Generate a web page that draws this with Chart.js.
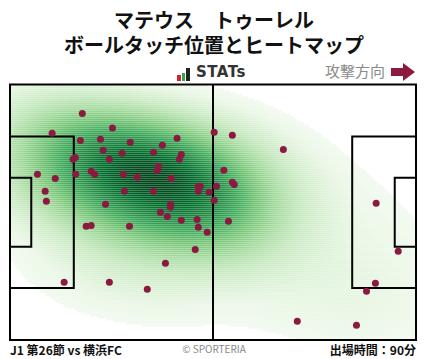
<!DOCTYPE html>
<html>
<head>
<meta charset="utf-8">
<script src="https://cdn.jsdelivr.net/npm/chart.js@4.4.1/dist/chart.umd.min.js"></script>
<style>
  body { margin: 0; width: 428px; height: 359px; background: #fff; position: relative; overflow: hidden;
         font-family: "Noto Sans CJK JP", "Noto Sans", sans-serif; }
  #pitch { position: absolute; left: 0; top: 0; }
  .title { position: absolute; left: 0; width: 428px; text-align: center; font-weight: bold; font-size: 20px; color: #111; line-height: 24px; }
  #t1 { top: 8px; }
  #t2 { top: 33px; }
  #stats { position: absolute; left: 177px; top: 63px; height: 18px; display: flex; align-items: flex-end; }
  #stats .bar { width: 3.5px; margin-right: 1px; }
  #stats span { font-family: "DejaVu Sans", sans-serif; font-weight: bold; font-size: 15px; color: #333; margin-left: 5px; line-height: 18px; letter-spacing: 0.5px; }
  #dir { position: absolute; left: 325px; top: 61px; font-size: 15px; color: #8a8a8a; line-height: 20px; }
  #arrow { position: absolute; left: 390px; top: 62px; }
  .foot { position: absolute; top: 340px; font-size: 12px; line-height: 20px; color: #111; font-weight: bold; }
  #f1 { left: 10px; }
  #f2 { left: 0; width: 428px; text-align: center; font-weight: normal; font-size: 10px; color: #888; top: 339px; }
  #f3 { right: 12px; }
</style>
</head>
<body>
<div class="title" id="t1">マテウス　トゥーレル</div>
<div class="title" id="t2">ボールタッチ位置とヒートマップ</div>
<div id="stats">
  <div class="bar" style="height:6px;background:#d6232a"></div>
  <div class="bar" style="height:8px;background:#2fa84f"></div>
  <div class="bar" style="height:13px;background:#222;width:4px"></div>
  <span>STATs</span>
</div>
<div id="dir">攻撃方向</div>
<svg id="arrow" width="26" height="20"><polygon points="1,6 13,6 13,1 25,10 13,19 13,14 1,14" fill="#8b1a3c"/></svg>
<div class="foot" id="f1">J1 第26節 vs 横浜FC</div>
<div class="foot" id="f2">© SPORTERIA</div>
<div class="foot" id="f3">出場時間：90分</div>
<canvas id="pitch" width="428" height="359"></canvas>
<script>
// pitch size (m)
var pitchLength = 105;
var pitchWidth = 68;

// touch positions, metres from own goal line / from top touchline
var touchX = [18.7, 10.9, 26.5, 18.2, 23.4, 24.1, 25.7, 16.9, 16.3, 7.1, 11.7, 17.0, 21.0, 21.9, 9.1, 9.4, 24.7,
              43.2, 31.1, 39.4, 52.8, 29.0, 37.1, 44.3, 43.8, 38.4, 38.1, 55.3, 29.3, 32.9, 41.7, 29.6, 37.1,
              48.7, 49.2, 48.7, 51.5, 53.4, 52.8, 41.5, 41.5, 38.9, 40.7, 44.3, 48.4, 48.7, 51.0, 30.9, 47.9,
              40.2, 35.5, 19.7, 21.0, 14.0, 25.7, 57.5, 70.7, 57.5, 58.0, 56.5, 94.7, 100.4, 94.5, 92.2, 74.3, 89.6];
var touchY = [7.7, 13.0, 11.6, 14.9, 14.6, 17.5, 19.9, 19.4, 19.9, 23.9, 25.0, 23.9, 23.1, 23.9, 28.4, 31.1, 31.9,
              14.3, 15.4, 16.2, 12.7, 18.3, 18.0, 18.6, 19.9, 21.8, 22.8, 22.8, 23.9, 24.7, 25.0, 28.4, 28.4,
              27.1, 27.1, 28.4, 28.7, 27.1, 30.8, 31.9, 32.7, 34.0, 35.1, 36.1, 35.9, 38.0, 39.3, 37.7, 43.9,
              47.6, 54.5, 37.7, 37.5, 52.6, 52.6, 13.5, 17.3, 26.0, 26.6, 36.4, 31.6, 44.4, 52.9, 55.0, 63.0, 64.1];

var greens = ['#f7fcf5', '#e5f5e0', '#c7e9c0', '#a1d99b', '#74c476', '#41ab5d', '#238b45', '#006d2c', '#00441b'];

function hexRgb(h) {
    return [parseInt(h.substr(1, 2), 16), parseInt(h.substr(3, 2), 16), parseInt(h.substr(5, 2), 16)];
}
var greensRgb = greens.map(hexRgb);

function greenAt(t) {
    t = Math.max(0, Math.min(1, t)) * (greensRgb.length - 1);
    var i = Math.min(Math.floor(t), greensRgb.length - 2);
    var f = t - i;
    var a = greensRgb[i], b = greensRgb[i + 1];
    return 'rgb(' + Math.round(a[0] + (b[0] - a[0]) * f) + ',' + Math.round(a[1] + (b[1] - a[1]) * f) + ',' + Math.round(a[2] + (b[2] - a[2]) * f) + ')';
}

// gaussian kde, scott bandwidth (scaled), full covariance
function makeKde(xs, ys, adjust) {
    var n = xs.length, mx = 0, my = 0;
    for (var i = 0; i < n; i++) { mx += xs[i]; my += ys[i]; }
    mx /= n; my /= n;
    var sxx = 0, syy = 0, sxy = 0;
    for (var i = 0; i < n; i++) {
        var dx = xs[i] - mx, dy = ys[i] - my;
        sxx += dx * dx; syy += dy * dy; sxy += dx * dy;
    }
    var f2 = Math.pow(n, -1 / 3) * adjust * adjust / (n - 1);
    var a = sxx * f2, b = sxy * f2, c = syy * f2;
    var det = a * c - b * b;
    var ia = c / det, ib = -b / det, ic = a / det;
    return function(x, y) {
        var s = 0;
        for (var i = 0; i < n; i++) {
            var dx = x - xs[i], dy = y - ys[i];
            s += Math.exp(-0.5 * (ia * dx * dx + 2 * ib * dx * dy + ic * dy * dy));
        }
        return s;
    };
}

var heatPitch = {
    id: 'heatPitch',
    beforeDatasetsDraw: function(chart) {
        var ctx = chart.ctx, area = chart.chartArea;
        var sx = chart.scales.x, sy = chart.scales.y;
        var kde = makeKde(touchX, touchY, 1.5);
        var step = 2;
        var cells = [];
        // extended grid so the mass proportions include the tails off the pitch
        var ext = 60;
        for (var py = area.top - ext; py < area.bottom + ext; py += step) {
            for (var px = area.left - ext; px < area.right + ext; px += step) {
                var v = kde(sx.getValueForPixel(px + step / 2), sy.getValueForPixel(py + step / 2));
                cells.push({ x: px, y: py, v: v });
            }
        }
        var order = cells.slice().sort(function(a, b) { return a.v - b.v; });
        var total = 0;
        order.forEach(function(c) { total += c.v; });
        var acc = 0;
        order.forEach(function(c) { acc += c.v; c.q = acc / total; });
        var thresh = 0.05;
        ctx.save();
        ctx.beginPath();
        ctx.rect(area.left, area.top, area.right - area.left, area.bottom - area.top);
        ctx.clip();
        cells.forEach(function(c) {
            if (c.q < thresh) return;
            if (c.x + step < area.left || c.x > area.right || c.y + step < area.top || c.y > area.bottom) return;
            var t = (c.q - thresh) / (1 - thresh);
            ctx.fillStyle = greenAt(0.04 + 0.96 * Math.pow(t, 1.1));
            ctx.fillRect(c.x, c.y, step, step);
        });
        ctx.restore();

        // pitch lines
        function X(v) { return sx.getPixelForValue(v); }
        function Y(v) { return sy.getPixelForValue(v); }
        ctx.save();
        ctx.strokeStyle = '#000';
        ctx.lineWidth = 2;
        var mid = pitchWidth / 2;
        ctx.strokeRect(X(0), Y(0), X(pitchLength) - X(0), Y(pitchWidth) - Y(0));
        ctx.beginPath();
        ctx.moveTo(X(pitchLength / 2), Y(0));
        ctx.lineTo(X(pitchLength / 2), Y(pitchWidth));
        ctx.stroke();
        [[0, 16.5, 20.16], [0, 5.5, 9.16], [pitchLength, pitchLength - 16.5, 20.16], [pitchLength, pitchLength - 5.5, 9.16]].forEach(function(b) {
            ctx.beginPath();
            ctx.moveTo(X(b[0]), Y(mid - b[2]));
            ctx.lineTo(X(b[1]), Y(mid - b[2]));
            ctx.lineTo(X(b[1]), Y(mid + b[2]));
            ctx.lineTo(X(b[0]), Y(mid + b[2]));
            ctx.stroke();
        });
        ctx.restore();
    }
};

var chart = new Chart(document.getElementById('pitch'), {
    type: 'scatter',
    data: {
        datasets: [{
            data: touchX.map(function(x, i) { return { x: x, y: touchY[i] }; }),
            backgroundColor: '#8c1a40',
            borderWidth: 0,
            pointRadius: 3.5
        }]
    },
    options: {
        responsive: false,
        animation: false,
        layout: { padding: { left: 10, top: 84.5, right: 12, bottom: 19 } },
        scales: {
            x: { type: 'linear', min: 0, max: pitchLength, display: false },
            y: { type: 'linear', min: 0, max: pitchWidth, reverse: true, display: false }
        },
        plugins: { legend: { display: false }, tooltip: { enabled: false } }
    },
    plugins: [heatPitch]
});
</script>
</body>
</html>
